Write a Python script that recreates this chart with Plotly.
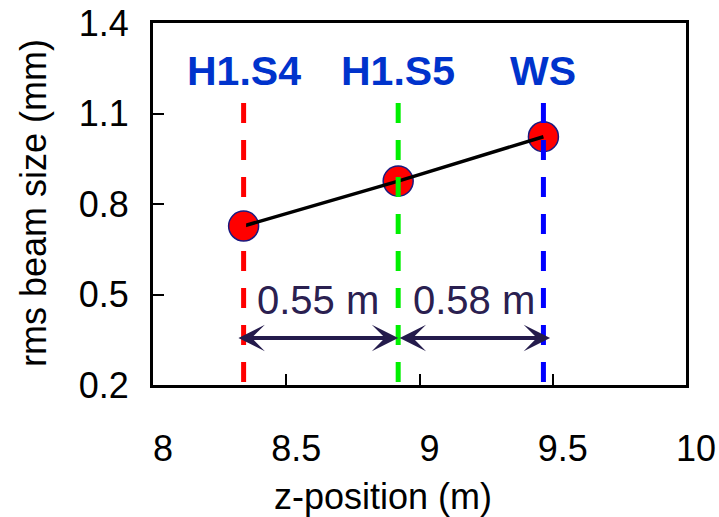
import plotly.graph_objects as go

# ---- data ----
z_pos = [8.34, 8.92, 9.465]            # z-position (m) of monitors
beam_size = [0.727, 0.876, 1.023]      # rms beam size (mm)
monitor_names = ["H1.S4", "H1.S5", "WS"]
monitor_colors = ["#FF0000", "#00F000", "#0000FF"]
line_top = 1.135
spacing_labels = ["0.55 m", "0.58 m"]
arrow_left = 8.315
arrow_right = 9.49
arrow_y = 0.356
x_ticks = [8, 8.5, 9, 9.5, 10]
x_ticktext = ["8", "8.5", "9", "9.5", "10"]
y_ticks = [0.2, 0.5, 0.8, 1.1, 1.4]
y_ticktext = ["0.2", "0.5", "0.8", "1.1", "1.4"]

FONT = "Arial, Liberation Sans, sans-serif"

fig = go.Figure()

# markers
fig.add_trace(go.Scatter(
    x=z_pos, y=beam_size, mode="markers",
    marker=dict(size=30, color="#FF0000", line=dict(color="#1A1A80", width=1.5)),
    showlegend=False, hoverinfo="skip"))
# connecting line
fig.add_trace(go.Scatter(
    x=z_pos, y=beam_size, mode="lines",
    line=dict(color="black", width=3.5),
    showlegend=False, hoverinfo="skip"))
# vertical dashed lines
for zx, col in zip(z_pos, monitor_colors):
    fig.add_trace(go.Scatter(
        x=[zx, zx], y=[line_top, 0.2], mode="lines",
        line=dict(color=col, width=5, dash="20px,17px"),
        showlegend=False, hoverinfo="skip", cliponaxis=False))

annotations = []
# monitor labels
for zx, name in zip(z_pos, monitor_names):
    annotations.append(dict(
        x=zx, y=1.24, xref="x", yref="y", text="<b>%s</b>" % name,
        showarrow=False, xanchor="center", yanchor="middle",
        font=dict(family=FONT, size=41, color="#0033CC")))

# arrows
arrow_pts = [arrow_left, z_pos[1], arrow_right]
arrow_col = "#241B4C"
for i in range(2):
    annotations.append(dict(
        x=arrow_pts[i + 1], y=arrow_y, ax=arrow_pts[i], ay=arrow_y,
        xref="x", yref="y", axref="x", ayref="y", text="",
        showarrow=True, arrowhead=3, startarrowhead=3, arrowside="end+start",
        arrowsize=1.1, startarrowsize=1.1, arrowwidth=4, arrowcolor=arrow_col,
        standoff=0, startstandoff=0))
    annotations.append(dict(
        x=(arrow_pts[i] + arrow_pts[i + 1]) / 2, y=0.482, xref="x", yref="y",
        text=spacing_labels[i], showarrow=False, xanchor="center", yanchor="middle",
        font=dict(family=FONT, size=40, color="#2A2050")))

PW = 719 - 153 - 33
PH = 517 - 23 - 132
# axis titles
annotations.append(dict(
    x=(383 - 153) / PW, y=-(496 - 385) / PH,
    xref="paper", yref="paper", text="z-position (m)", showarrow=False,
    xanchor="center", yanchor="middle",
    font=dict(family=FONT, size=36, color="black")))
annotations.append(dict(
    x=-(153 - 34) / PW, y=(385 - 203) / PH,
    xref="paper", yref="paper", text="rms beam size (mm)", showarrow=False,
    textangle=-90, xanchor="center", yanchor="middle",
    font=dict(family=FONT, size=36, color="black")))

fig.update_layout(
    width=719, height=517,
    margin=dict(l=153, r=33, t=23, b=132, autoexpand=False),
    paper_bgcolor="white", plot_bgcolor="white",
    font=dict(family=FONT, size=36, color="black"),
    showlegend=False,
    annotations=annotations,
    xaxis=dict(
        range=[8, 10], tickvals=x_ticks, ticktext=x_ticktext,
        ticks="inside", ticklen=11, tickwidth=2, tickcolor="black",
        showline=True, linewidth=3, linecolor="black", mirror=True,
        showgrid=False, zeroline=False, automargin=False,
        ticklabelshift=10, ticklabelstandoff=30,
        tickfont=dict(family=FONT, size=36, color="black")),
    yaxis=dict(
        range=[0.2, 1.4], tickvals=y_ticks, ticktext=y_ticktext,
        ticks="inside", ticklen=11, tickwidth=2, tickcolor="black",
        showline=True, linewidth=3, linecolor="black", mirror=True,
        showgrid=False, zeroline=False, automargin=False,
        ticklabelstandoff=14,
        tickfont=dict(family=FONT, size=36, color="black")),
)

fig.write_html("out.html")
